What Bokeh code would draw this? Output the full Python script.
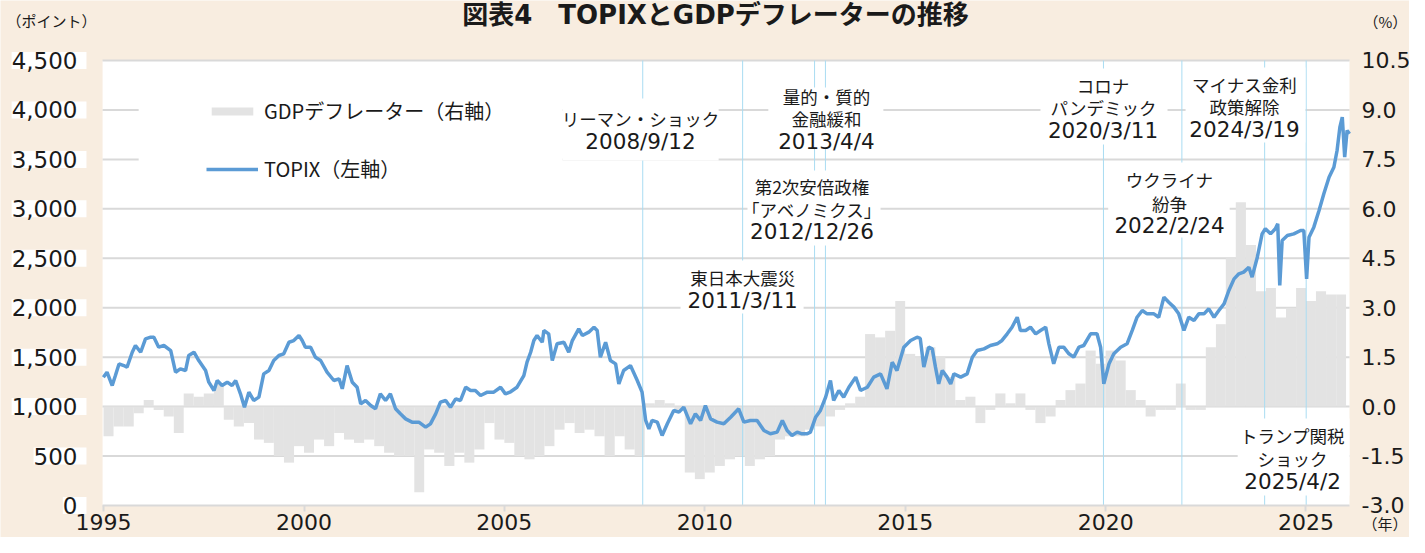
from datetime import date
from bokeh.plotting import figure
from bokeh.models import (Range1d, LinearAxis, FixedTicker, PrintfTickFormatter, Label,
                          Legend, LegendItem, CustomJSTickFormatter)
from bokeh.embed import file_html
from bokeh.resources import INLINE

# ---------------- data ----------------
years_q = list(range(1995, 2026))
quarter_ends = ["03-31", "06-30", "09-30", "12-31"]

gdp_deflator = [
    -0.9, -0.6, -0.6, -0.2,   # 1995
    0.2, -0.1, -0.3, -0.8,    # 1996
    0.4, 0.3, 0.4, 0.7,       # 1997
    -0.4, -0.6, -0.5, -1.0,   # 1998
    -1.1, -1.5, -1.7, -1.2,   # 1999
    -1.4, -1.0, -1.2, -0.8,   # 2000
    -1.0, -1.1, -1.0, -1.2,   # 2001
    -1.4, -1.5, -1.5, -2.6,   # 2002
    -1.3, -1.4, -1.8, -1.4,   # 2003
    -1.7, -1.3, -0.5, -1.0,   # 2004
    -1.1, -1.5, -1.6, -1.5,   # 2005
    -1.2, -0.7, -0.5, -0.8,   # 2006
    -0.7, -0.9, -1.5, -0.9,   # 2007
    -1.3, -1.5, 0.1, 0.2,     # 2008
    0.1, -0.1, -2.0, -2.2,    # 2009
    -2.0, -1.8, -1.6, -1.5,   # 2010
    -1.8, -1.6, -1.5, -1.0,   # 2011
    -0.9, -0.9, -0.7, -0.6,   # 2012
    -0.3, -0.1, 0.1, 0.3,     # 2013
    2.2, 2.1, 2.3, 3.2,       # 2014
    1.6, 1.5, 1.8, 1.5,       # 2015
    0.9, 0.2, 0.3, -0.5,      # 2016
    -0.1, 0.4, 0.1, 0.4,      # 2017
    -0.1, -0.5, -0.3, 0.2,    # 2018
    0.5, 0.7, 1.7, 1.3,       # 2019
    1.7, 1.4, 0.5, 0.2,       # 2020
    -0.3, -0.1, -0.1, 0.7,    # 2021
    -0.1, -0.1, 1.8, 2.5,     # 2022
    4.5, 6.2, 4.9, 3.5,       # 2023
    3.6, 2.7, 3.0, 3.6,       # 2024
    3.2, 3.5, 3.4, 3.4,       # 2025
]

topix_date = [
    1995.24, 1995.33, 1995.46, 1995.54, 1995.63, 1995.75, 1995.83, 1995.96,
    1996.04, 1996.17, 1996.29, 1996.42, 1996.50, 1996.62, 1996.75, 1996.92,
    1997.04, 1997.16, 1997.29, 1997.37, 1997.50, 1997.62, 1997.79, 1997.87,
    1998.00, 1998.08, 1998.20, 1998.33, 1998.45, 1998.54, 1998.66, 1998.76,
    1998.87, 1998.99, 1999.12, 1999.24, 1999.37, 1999.49, 1999.62, 1999.74,
    1999.87, 1999.99, 2000.12, 2000.20, 2000.28, 2000.41, 2000.53, 2000.66,
    2000.82, 2000.99, 2001.12, 2001.20, 2001.32, 2001.45, 2001.57, 2001.66,
    2001.78, 2001.91, 2002.03, 2002.15, 2002.28, 2002.40, 2002.53, 2002.65,
    2002.78, 2002.94, 2003.11, 2003.28, 2003.40, 2003.53, 2003.65, 2003.78,
    2003.90, 2004.03, 2004.15, 2004.28, 2004.40, 2004.52, 2004.65, 2004.82,
    2004.98, 2005.15, 2005.27, 2005.40, 2005.56, 2005.73, 2005.81, 2005.90,
    2005.98, 2006.06, 2006.19, 2006.23, 2006.35, 2006.44, 2006.56, 2006.73,
    2006.85, 2006.94, 2007.10, 2007.19, 2007.35, 2007.48, 2007.56, 2007.64,
    2007.77, 2007.89, 2008.02, 2008.10, 2008.22, 2008.39, 2008.56, 2008.68,
    2008.77, 2008.85, 2008.93, 2009.06, 2009.18, 2009.31, 2009.47, 2009.60,
    2009.72, 2009.89, 2010.01, 2010.14, 2010.26, 2010.39, 2010.55, 2010.72,
    2010.89, 2011.09, 2011.22, 2011.38, 2011.55, 2011.72, 2011.88, 2012.05,
    2012.18, 2012.30, 2012.42, 2012.55, 2012.67, 2012.80, 2012.88, 2013.01,
    2013.13, 2013.26, 2013.38, 2013.46, 2013.59, 2013.71, 2013.84, 2014.01,
    2014.13, 2014.30, 2014.46, 2014.63, 2014.79, 2014.92, 2015.04, 2015.21,
    2015.38, 2015.54, 2015.62, 2015.71, 2015.83, 2015.92, 2016.00, 2016.08,
    2016.17, 2016.29, 2016.38, 2016.46, 2016.63, 2016.79, 2016.92, 2017.04,
    2017.21, 2017.37, 2017.54, 2017.66, 2017.79, 2017.91, 2018.04, 2018.12,
    2018.25, 2018.37, 2018.50, 2018.62, 2018.75, 2018.83, 2018.95, 2019.08,
    2019.20, 2019.33, 2019.45, 2019.58, 2019.70, 2019.87, 2020.03, 2020.12,
    2020.20, 2020.33, 2020.45, 2020.62, 2020.78, 2020.91, 2021.03, 2021.16,
    2021.28, 2021.45, 2021.57, 2021.70, 2021.82, 2021.95, 2022.07, 2022.20,
    2022.32, 2022.45, 2022.57, 2022.70, 2022.82, 2022.95, 2023.07, 2023.20,
    2023.32, 2023.45, 2023.57, 2023.69, 2023.82, 2023.90, 2024.03, 2024.15,
    2024.23, 2024.36, 2024.48, 2024.54, 2024.59, 2024.65, 2024.78, 2024.94,
    2025.11, 2025.19, 2025.26, 2025.32, 2025.44, 2025.57, 2025.69, 2025.82,
    2025.94, 2026.02, 2026.09, 2026.15, 2026.21, 2026.27, 2026.33,
]
topix_value = [
    1297, 1348, 1213, 1314, 1432, 1415, 1398, 1550,
    1618, 1550, 1685, 1702, 1702, 1601, 1618, 1567,
    1348, 1382, 1365, 1517, 1550, 1466, 1365, 1247,
    1163, 1264, 1213, 1247, 1213, 1264, 1129, 994,
    1146, 1062, 1096, 1331, 1365, 1466, 1517, 1534,
    1651, 1668, 1719, 1668, 1601, 1601, 1500, 1466,
    1348, 1264, 1281, 1180, 1415, 1247, 1196, 1028,
    1062, 1011, 978, 1129, 1062, 1129, 978, 927,
    876, 843, 843, 792, 826, 927, 1045, 1062,
    994, 1079, 1062, 1196, 1163, 1163, 1112, 1146,
    1146, 1196, 1129, 1150, 1196, 1314, 1449, 1550,
    1668, 1719, 1651, 1769, 1736, 1466, 1635, 1651,
    1550, 1668, 1786, 1719, 1753, 1803, 1769, 1500,
    1651, 1466, 1432, 1230, 1365, 1415, 1264, 1146,
    860, 776, 860, 843, 708, 826, 961, 944,
    994, 826, 927, 860, 1011, 876, 843, 826,
    893, 978, 843, 860, 860, 759, 725, 742,
    860, 759, 708, 742, 725, 725, 742, 893,
    961, 1096, 1264, 1062, 1163, 1096, 1196, 1298,
    1163, 1196, 1298, 1331, 1180, 1449, 1365, 1601,
    1668, 1702, 1690, 1399, 1601, 1584, 1399, 1230,
    1365, 1298, 1230, 1331, 1298, 1331, 1500, 1567,
    1584, 1618, 1635, 1669, 1736, 1803, 1904, 1770,
    1770, 1803, 1736, 1770, 1803, 1635, 1433, 1601,
    1601, 1534, 1500, 1601, 1618, 1736, 1736, 1601,
    1230, 1433, 1534, 1601, 1635, 1770, 1904, 1972,
    1938, 1938, 1904, 2107, 2056, 2006, 1938, 1770,
    1904, 1871, 1938, 1938, 1989, 1904, 1972, 2039,
    2174, 2292, 2343, 2360, 2410, 2309, 2511, 2747,
    2798, 2747, 2798, 2848, 2225, 2680, 2730, 2747,
    2781, 2781, 2292, 2713, 2815, 2983, 3152, 3320,
    3421, 3590, 3826, 3927, 3522, 3792, 3758,
]

event_dates = ["2008-09-12", "2011-03-11", "2012-12-26", "2013-04-04",
               "2020-03-11", "2022-02-24", "2024-03-19", "2025-04-02"]

left_ticks = [0, 500, 1000, 1500, 2000, 2500, 3000, 3500, 4000, 4500]
right_ticks = [-3.0, -1.5, 0.0, 1.5, 3.0, 4.5, 6.0, 7.5, 9.0, 10.5]
year_ticks = [1995, 2000, 2005, 2010, 2015, 2020, 2025]

# annotation texts: (lines, text-centre date, line values, box [left, right, top, bottom])
annotations = [
    (["リーマン・ショック", "2008/9/12"], 2008.64, [3913, 3681], [2006.70, 2010.59, 4116, 3489]),
    (["量的・質的", "金融緩和", "2013/4/4"], 2013.28, [4136, 3913, 3681], [2011.83, 2014.70, 4227, 3620]),
    (["第2次安倍政権", "「アベノミクス」", "2012/12/26"], 2012.92, [3226, 2993, 2771], [2011.31, 2014.63, 3388, 2629]),
    (["東日本大震災", "2011/3/11"], 2011.19, [2306, 2073], [2009.64, 2012.71, 2477, 1942]),
    (["コロナ", "パンデミック", "2020/3/11"], 2020.18, [4247, 4024, 3792], [2018.62, 2021.79, 4419, 3650]),
    (["マイナス金利", "政策解除", "2024/3/19"], 2023.71, [4262, 4035, 3807], [2022.24, 2025.23, 4429, 3671]),
    (["ウクライナ", "紛争", "2022/2/24"], 2021.84, [3297, 3049, 2831], [2020.31, 2023.34, 3468, 2710]),
    (["トランプ関税", "ショック", "2025/4/2"], 2024.91, [708, 475, 243], [2023.54, 2026.33, 880, 101]),
]


def dec(s):
    y, m, d = map(int, s.split("-"))
    start, nxt = date(y, 1, 1), date(y + 1, 1, 1)
    return y + (date(y, m, d) - start).days / (nxt - start).days


q_dates = [dec(f"{y}-{q}") for y in years_q for q in quarter_ends] + [dec("2026-03-31")]
bar_left = q_dates[:-1]
bar_right = q_dates[1:]
tick_pos = [dec(f"{y}-03-31") for y in year_ticks]
event_x = [dec(s) for s in event_dates]

PLOT_X0, PLOT_X1 = 1995.22, 2026.33   # plot-area extent (time axis)
W, H = 1409, 537

BG = "#F8EDE0"
GRID = "#D9D9D9"
TXT = "#1a1a1a"
JP = "Noto Sans CJK JP"
NUM = "DejaVu Sans"

# the frame spans the whole canvas; the white plot area is drawn inside it
p = figure(width=W, height=H, output_backend="svg", toolbar_location=None,
           x_range=Range1d(1992.673, 2027.827), y_range=Range1d(-323.6, 5106.8),
           min_border=0, min_border_left=0, min_border_right=0,
           min_border_top=0, min_border_bottom=0)
p.background_fill_color = BG
p.border_fill_color = BG
p.outline_line_color = None
p.yaxis.visible = False
p.xgrid.visible = False
p.ygrid.visible = False

# x axis drawn at TOPIX = 0
p.xaxis.fixed_location = 0
p.xaxis.bounds = (PLOT_X0, PLOT_X1)
p.xaxis.ticker = FixedTicker(ticks=tick_pos)
p.xaxis.formatter = CustomJSTickFormatter(code="return Math.floor(tick + 0.01).toString()")
p.xaxis.axis_line_color = GRID
p.xaxis.axis_line_width = 2
p.xaxis.major_tick_line_color = GRID
p.xaxis.major_tick_line_width = 2
p.xaxis.major_tick_out = 6
p.xaxis.major_tick_in = 0
p.xaxis.minor_tick_line_color = None
p.xaxis.major_label_standoff = 3
p.xaxis.major_label_text_font = NUM
p.xaxis.major_label_text_font_size = "22px"
p.xaxis.major_label_text_color = TXT

# right axis for the GDP deflator (%)
p.extra_y_ranges = {"pct": Range1d(-3.971, 12.320)}
rax = LinearAxis(y_range_name="pct", ticker=FixedTicker(ticks=right_ticks),
                 formatter=PrintfTickFormatter(format="%.1f"),
                 fixed_location=PLOT_X1, bounds=(-3, 10.5))
rax.axis_line_color = None
rax.major_tick_line_color = None
rax.minor_tick_line_color = None
rax.major_tick_out = 0
rax.major_tick_in = 0
rax.major_label_standoff = 12
rax.major_label_text_font = NUM
rax.major_label_text_font_size = "22px"
rax.major_label_text_color = TXT
p.add_layout(rax, "right")

# white plot area and horizontal grid
p.quad(left=[PLOT_X0], right=[PLOT_X1], bottom=[0], top=[4500], fill_color="white", line_color=None)
grid_vals = left_ticks[1:]
p.segment(x0=[PLOT_X0] * len(grid_vals), x1=[PLOT_X1] * len(grid_vals), y0=grid_vals, y1=grid_vals,
          line_color=GRID, line_width=2)

bars = p.quad(left=bar_left, right=bar_right, top=gdp_deflator, bottom=0, y_range_name="pct",
              fill_color="#E3E3E3", line_color=None)

p.segment(x0=event_x, y0=0, x1=event_x, y1=4500, line_color="#A9DCF2", line_width=1)

# white backdrops (legend area and annotation boxes)
p.quad(left=[1996.12], right=[2006.70], top=[4348], bottom=[3185], fill_color="white", line_color=None)
p.quad(left=[a[3][0] for a in annotations], right=[a[3][1] for a in annotations],
       top=[a[3][2] for a in annotations], bottom=[a[3][3] for a in annotations],
       fill_color="white", line_color=None)

line = p.line(topix_date, topix_value, line_color="#5B9BD5", line_width=3.5)

for lines, cx, ys, _box in annotations:
    for txt, yv in zip(lines, ys):
        is_num = txt[0].isdigit()
        p.add_layout(Label(x=cx, y=yv, text=txt, text_align="center", text_baseline="middle",
                           text_font=NUM if is_num else JP,
                           text_font_size="21.5px" if is_num else "17.5px",
                           text_color=TXT))

# left tick labels (TOPIX points) on white boxes
for v in left_ticks:
    p.add_layout(Label(x=1994.818, y=v, text=f"{v:,}", text_align="right",
                       text_baseline="middle", text_font=NUM, text_font_size="23px",
                       text_color=TXT, background_fill_color="white", padding=(0, 9, 0, 0)))

# title and unit labels
p.add_layout(Label(x=715, y=H - 14, x_units="screen", y_units="screen",
                   text="図表4　TOPIXとGDPデフレーターの推移", text_align="center",
                   text_baseline="middle", text_font="DejaVu Sans, Noto Sans CJK JP",
                   text_font_style="bold", text_font_size="26px", text_color=TXT))
p.add_layout(Label(x=6, y=H - 20, x_units="screen", y_units="screen", text="（ポイント）",
                   text_align="left", text_baseline="middle", text_font=JP,
                   text_font_size="15px", text_color=TXT))
p.add_layout(Label(x=1363, y=H - 21, x_units="screen", y_units="screen", text="（%）",
                   text_align="left", text_baseline="middle", text_font=JP,
                   text_font_size="15px", text_color=TXT))
p.add_layout(Label(x=1362, y=H - 523, x_units="screen", y_units="screen", text="（年）",
                   text_align="left", text_baseline="middle", text_font=JP,
                   text_font_size="15px", text_color=TXT))

legend = Legend(items=[LegendItem(label="GDPデフレーター（右軸）", renderers=[bars]),
                       LegendItem(label="TOPIX（左軸）", renderers=[line])],
                location=(206, 354), glyph_width=52, glyph_height=10, label_standoff=6,
                spacing=29, padding=10, background_fill_color="white", border_line_color=None,
                label_text_font=JP, label_text_font_size="20px", label_text_color=TXT)
p.add_layout(legend)

open("out.html", "w").write(file_html(p, INLINE))
